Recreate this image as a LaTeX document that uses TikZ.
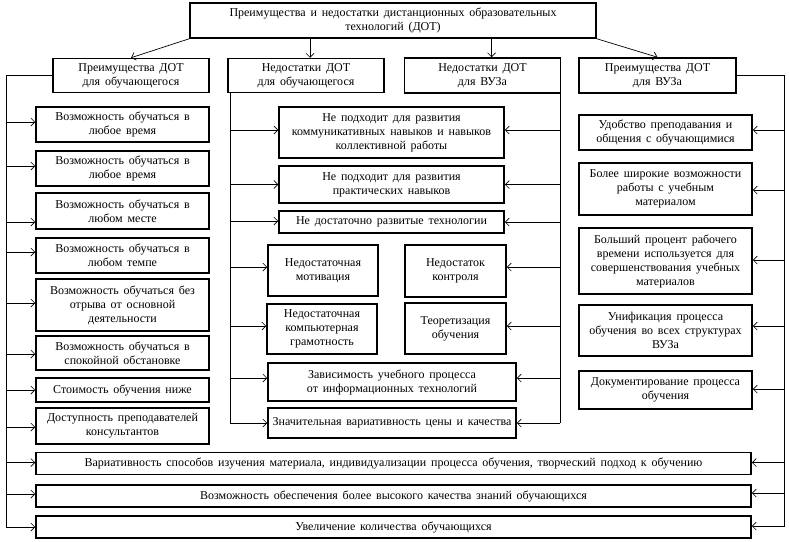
\documentclass[tikz,border=0pt]{standalone}
\usepackage{fontspec}
\setmainfont{Liberation Serif}
\usetikzlibrary{arrows.meta,calc}
\newcommand\myboxfont{\fontsize{12}{14}\selectfont\spaceskip=4.8pt plus 1pt minus 1pt\relax}
\begin{document}
\begin{tikzpicture}[x=1pt,y=-1pt,
  box/.style={draw, line width=1.5pt, align=center, inner sep=1pt,
    font=\myboxfont},
  conn/.style={line width=0.7pt},
  arr/.style={line width=0.7pt, -{Straight Barb[length=4pt,width=8pt]}}]
\useasboundingbox (0,0) rectangle (789,541);
% title and headers
\node[box, minimum width=406, minimum height=35] (title) at (393,20.5)
  {Преимущества  и  недостатки  дистанционных  образовательных\\технологий  (ДОТ)};
\node[box, minimum width=156, minimum height=34] (h1) at (131,75.5) {Преимущества  ДОТ\\для обучающегося};
\node[box, minimum width=156, minimum height=34] (h2) at (306,75.5) {Недостатки  ДОТ\\для обучающегося};
\node[box, minimum width=156, minimum height=35] (h3) at (482.5,75.5) {Недостатки  ДОТ\\для ВУЗа};
\node[box, minimum width=157, minimum height=35] (h4) at (657.5,75.5) {Преимущества  ДОТ\\для ВУЗа};
% left column
\node[box, minimum width=173, minimum height=35] (l1) at (122.5,124.5) {Возможность  обучаться  в\\любое время};
\node[box, minimum width=173, minimum height=35] (l2) at (122.5,168.5) {Возможность  обучаться  в\\любое время};
\node[box, minimum width=173, minimum height=36] (l3) at (122.5,211) {Возможность  обучаться  в\\любом  месте};
\node[box, minimum width=173, minimum height=35] (l4) at (122.5,255.5) {Возможность  обучаться  в\\любом  темпе};
\node[box, minimum width=173, minimum height=52] (l5) at (122.5,305) {Возможность  обучаться  без\\отрыва от основной\\деятельности};
\node[box, minimum width=173, minimum height=34] (l6) at (122.5,353) {Возможность  обучаться  в\\спокойной  обстановке};
\node[box, minimum width=173, minimum height=24] (l7) at (122.5,390) {Стоимость  обучения  ниже};
\node[box, minimum width=173, minimum height=36] (l8) at (122.5,426) {Доступность  преподавателей\\консультантов};
% middle column
\node[box, minimum width=225, minimum height=51] (m1) at (391.5,132.5) {Не подходит  для развития\\коммуникативных  навыков и навыков\\коллективной  работы};
\node[box, minimum width=225, minimum height=37] (m2) at (391.5,184.5) {Не подходит  для развития\\практических  навыков};
\node[box, minimum width=225, minimum height=22] (m3) at (391.5,222) {Не достаточно  развитые  технологии};
\node[box, minimum width=110, minimum height=51] (m4) at (323,270.5) {Недостаточная\\мотивация};
\node[box, minimum width=110, minimum height=50] (m5) at (322,329) {Недостаточная\\компьютерная\\грамотность};
\node[box, minimum width=101, minimum height=52] (m8) at (455.5,271) {Недостаток\\контроля};
\node[box, minimum width=101, minimum height=51] (m9) at (455.5,328.5) {Теоретизация\\обучения};
\node[box, minimum width=248, minimum height=38] (m6) at (392,382) {Зависимость  учебного  процесса\\от информационных  технологий};
\node[box, minimum width=248, minimum height=30] (m7) at (392,423) {Значительная  вариативность  цены  и  качества};
% right column
\node[box, minimum width=173, minimum height=35] (r1) at (665.5,132.5) {Удобство преподавания  и\\общения  с  обучающимися};
\node[box, minimum width=173, minimum height=52] (r2) at (665.5,189) {Более широкие  возможности\\работы  с учебным\\материалом};
\node[box, minimum width=173, minimum height=66] (r3) at (665.5,261) {Больший  процент  рабочего\\времени  используется  для\\совершенствования  учебных\\материалов};
\node[box, minimum width=173, minimum height=51] (r4) at (665.5,330.5) {Унификация  процесса\\обучения  во всех  структурах\\ВУЗа};
\node[box, minimum width=173, minimum height=38] (r5) at (665.5,390) {Документирование  процесса\\обучения};
% bottom rows
\node[box, minimum width=715, minimum height=22] (b1) at (393.5,463.5) {Вариативность  способов  изучения  материала,  индивидуализации  процесса  обучения,  творческий  подход  к  обучению};
\node[box, minimum width=715, minimum height=22] (b2) at (393.5,496) {Возможность  обеспечения  более  высокого  качества  знаний  обучающихся};
\node[box, minimum width=715, minimum height=22] (b3) at (393.5,527) {Увеличение  количества  обучающихся};
% trunk coordinates
\coordinate (lx) at (6,527);
\coordinate (rx) at (784,527);
\coordinate (mltop) at (230,93);
\coordinate (mlbot) at (230,423);
\coordinate (mrtop) at (560,93);
\coordinate (mrbot) at (560,423);
% arrows from title
\draw[arr] (title.south west) -- (h1.north);
\draw[arr] (title.south east) -- (h4.north);
\draw[arr] ($(title.south -| h2.north)+(4,0)$) -- ($(h2.north)+(4,0)$);
\draw[arr] ($(title.south -| h3.north)+(9,0)$) -- ($(h3.north)+(9,0)$);
% trunks
\draw[conn] (h1.west) -| (lx);
\draw[conn] (h4.east) -| (rx);
\draw[conn] (mltop) -- (mlbot);
\draw[conn] (mrtop) -- (mrbot);
% left branch arrows
\foreach \n/\d in {l1/2.5,l2/2.5,l3/-11,l4/3.5,l5/2,l6/-1,l7/0,l8/-1,b1/1,b2/2,b3/0}
  \draw[arr] ([yshift=\d]\n.west -| lx) -- ([yshift=\d]\n.west);
% right branch arrows
\foreach \n/\d in {r1/2.5,r2/-1,r3/1,r4/4.5,r5/1,b1/1,b2/3,b3/1}
  \draw[arr] ([yshift=\d]\n.east -| rx) -- ([yshift=\d]\n.east);
% middle arrows
\foreach \n/\d in {m1/2.5,m2/0,m3/1,m4/3.5,m5/3,m6/4,m7/0}
  \draw[arr] ([yshift=\d]\n.west -| mltop) -- ([yshift=\d]\n.west);
\foreach \n/\d in {m1/2.5,m2/0,m3/0,m8/4,m9/2.5,m6/4,m7/0}
  \draw[arr] ([yshift=\d]\n.east -| mrtop) -- ([yshift=\d]\n.east);
\end{tikzpicture}
\end{document}
